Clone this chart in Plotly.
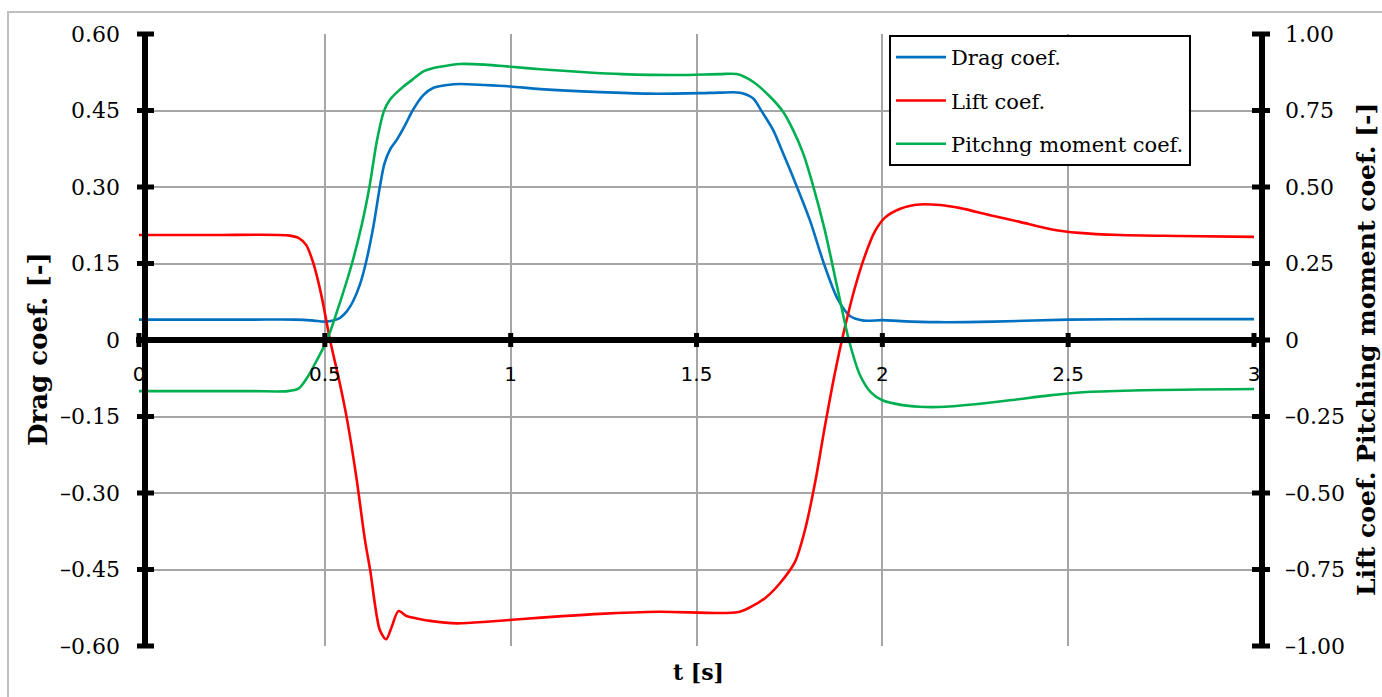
import plotly.graph_objects as go

# ---------------- data ----------------
drag_t = [0, 0.3, 0.42, 0.47, 0.5, 0.54, 0.56, 0.576, 0.595, 0.61, 0.63, 0.648, 0.66, 0.675, 0.693,
          0.715, 0.737, 0.765, 0.791, 0.83, 0.864, 0.93, 1.0, 1.08, 1.24, 1.375, 1.51, 1.563, 1.617,
          1.652, 1.675, 1.706, 1.729, 1.765, 1.805, 1.845, 1.88, 1.913, 1.95, 2.0, 2.05, 2.15,
          2.3, 2.5, 2.75, 3.0]
drag_v = [0.04, 0.04, 0.04, 0.038, 0.036, 0.043, 0.057, 0.076, 0.11, 0.15, 0.22, 0.30, 0.345, 0.373, 0.392,
          0.42, 0.451, 0.48, 0.494, 0.5, 0.502, 0.5, 0.497, 0.492, 0.486, 0.483, 0.484, 0.485, 0.485,
          0.474, 0.449, 0.412, 0.373, 0.31, 0.235, 0.145, 0.08, 0.047, 0.038, 0.039, 0.037, 0.035,
          0.036, 0.04, 0.041, 0.041]

lift_t = [0, 0.2, 0.4, 0.43, 0.45, 0.468, 0.49, 0.514, 0.54, 0.56, 0.585, 0.608, 0.622, 0.648, 0.665, 0.68,
          0.698, 0.72, 0.747, 0.783, 0.855, 0.944, 1.05, 1.24, 1.4, 1.61, 1.645, 1.685, 1.725, 1.765,
          1.792, 1.82, 1.845, 1.872, 1.897, 1.926, 1.953, 1.98, 2.007, 2.05, 2.1, 2.155, 2.21, 2.29,
          2.37, 2.45, 2.53, 2.64, 2.8, 3.0]
lift_v = [0.343, 0.343, 0.342, 0.333, 0.31, 0.255, 0.15, 0.0, -0.14, -0.261, -0.45, -0.654, -0.752, -0.948, -0.978, -0.937,
          -0.886, -0.902, -0.91, -0.918, -0.926, -0.92, -0.91, -0.895, -0.888, -0.89, -0.873, -0.843, -0.794, -0.725,
          -0.62, -0.46, -0.285, -0.11, 0.03, 0.17, 0.275, 0.355, 0.40, 0.43, 0.443, 0.441, 0.431, 0.408,
          0.386, 0.363, 0.35, 0.343, 0.34, 0.337]

pitch_t = [0, 0.3, 0.4, 0.43, 0.452, 0.479, 0.506, 0.54, 0.573, 0.6, 0.62, 0.64, 0.659, 0.675, 0.69,
           0.711, 0.735, 0.764, 0.79, 0.81, 0.864, 0.93, 1.0, 1.08, 1.2, 1.3, 1.45, 1.563, 1.608,
           1.652, 1.698, 1.733, 1.76, 1.787, 1.81, 1.845, 1.88, 1.91, 1.94, 1.97, 2.0, 2.05, 2.1,
           2.15, 2.25, 2.35, 2.45, 2.55, 2.7, 3.0]
pitch_v = [-0.167, -0.167, -0.167, -0.158, -0.124, -0.065, 0.0, 0.12, 0.25, 0.38, 0.5, 0.65, 0.748, 0.785, 0.805,
           0.828, 0.85, 0.877, 0.888, 0.893, 0.902, 0.9, 0.893, 0.885, 0.875, 0.869, 0.866, 0.869, 0.869,
           0.844, 0.795, 0.746, 0.686, 0.61, 0.52, 0.36, 0.165, 0.0, -0.115, -0.172, -0.197, -0.212, -0.218,
           -0.219, -0.21, -0.196, -0.181, -0.17, -0.164, -0.16]

series_names = ["Drag coef.", "Lift coef.", "Pitchng moment coef."]
series_colors = ["#0070C0", "#FF0000", "#00B050"]

x_ticks = [0, 0.5, 1, 1.5, 2, 2.5, 3]
x_ticktext = ["0", "0.5", "1", "1.5", "2", "2.5", "3"]
yl_ticks = [0.6, 0.45, 0.3, 0.15, 0, -0.15, -0.3, -0.45, -0.6]
yl_ticktext = ["0.60", "0.45", "0.30", "0.15", "0", "–0.15", "–0.30", "–0.45", "–0.60"]
yr_ticks = [1.0, 0.75, 0.5, 0.25, 0, -0.25, -0.5, -0.75, -1.0]
yr_ticktext = ["1.00", "0.75", "0.50", "0.25", "0", "–0.25", "–0.50", "–0.75", "–1.00"]

x_title = "t [s]"
yl_title = "Drag coef. [-]"
yr_title = "Lift coef. Pitching moment coef. [-]"

X_RANGE = [0, 3]
YL_RANGE = [-0.6, 0.6]
YR_RANGE = [-1, 1]

# ---------------- figure ----------------
W, H = 1382, 697
ML, MR, MT, MB = 139, 128, 34, 51
PW, PH = W - ML - MR, H - MT - MB


def px_x(p):
    return (p - ML) / PW


def px_y(p):
    return 1 - (p - MT) / PH


def frac(v, rng):
    return (v - rng[0]) / (rng[1] - rng[0])


SERIF = "DejaVu Serif"
GRID = "#A6A6A6"

fig = go.Figure()
data = [(drag_t, drag_v, "y"), (lift_t, lift_v, "y2"), (pitch_t, pitch_v, "y2")]
for i, (t, v, ax) in enumerate(data):
    fig.add_trace(go.Scatter(
        x=t, y=v, yaxis=ax, mode="lines", name=series_names[i],
        legendgroup=f"g{i}",
        line=dict(color=series_colors[i], width=2.6, shape="spline", smoothing=0.8),
    ))

shapes = []
# outer frame
shapes.append(dict(type="rect", xref="paper", yref="paper",
                   x0=px_x(8), x1=px_x(1400), y0=px_y(12), y1=px_y(720),
                   line=dict(color="#BFBFBF", width=2), fillcolor="rgba(0,0,0,0)", layer="above"))
# thick axis lines
axis_line = dict(color="black", width=6)
shapes.append(dict(type="line", xref="paper", yref="paper", xsizemode="pixel", xanchor=0, x0=6, x1=6,
                   y0=0, y1=1, line=axis_line, layer="above"))
shapes.append(dict(type="line", xref="paper", yref="paper", xsizemode="pixel", xanchor=1, x0=8, x1=8,
                   y0=0, y1=1, line=axis_line, layer="above"))
y_zero = frac(0, YL_RANGE)
shapes.append(dict(type="line", xref="paper", yref="paper", x0=px_x(136), x1=px_x(1264),
                   y0=y_zero, y1=y_zero, line=axis_line, layer="above"))
# tick bars
tick_line = dict(color="black", width=5)
for yv in yl_ticks:
    f = frac(yv, YL_RANGE)
    shapes.append(dict(type="line", xref="paper", yref="paper", xsizemode="pixel", xanchor=0, x0=-2, x1=15,
                       y0=f, y1=f, line=tick_line, layer="above"))
for yv in yr_ticks:
    f = frac(yv, YR_RANGE)
    shapes.append(dict(type="line", xref="paper", yref="paper", xsizemode="pixel", xanchor=1, x0=-2, x1=16,
                       y0=f, y1=f, line=tick_line, layer="above"))
for xv in x_ticks:
    f = frac(xv, X_RANGE)
    shapes.append(dict(type="line", xref="paper", yref="paper", ysizemode="pixel", yanchor=y_zero,
                       y0=-7, y1=7, x0=f, x1=f, line=tick_line, layer="above"))

annotations = [
    dict(text=f"<b>{yl_title}</b>", xref="paper", yref="paper", x=px_x(38), y=px_y(349),
         xanchor="center", yanchor="middle",
         textangle=-90, showarrow=False, font=dict(family=SERIF, size=26, color="black")),
    dict(text=f"<b>{yr_title}</b>", xref="paper", yref="paper", x=px_x(1366), y=px_y(350),
         xanchor="center", yanchor="middle",
         textangle=-90, showarrow=False, font=dict(family=SERIF, size=25, color="black")),
    dict(text=f"<b>{x_title}</b>", xref="paper", yref="paper", x=px_x(698), y=px_y(672),
         xanchor="center", yanchor="middle",
         showarrow=False, font=dict(family=SERIF, size=22, color="black")),
]

fig.update_layout(
    width=W, height=H,
    margin=dict(l=ML, r=MR, t=MT, b=MB, autoexpand=False),
    paper_bgcolor="white", plot_bgcolor="white",
    showlegend=True,
    legend=dict(x=px_x(889), y=px_y(35), xanchor="left", yanchor="top",
                bgcolor="white", bordercolor="black", borderwidth=2,
                font=dict(family=SERIF, size=21, color="black"),
                tracegroupgap=13, itemwidth=50),
    xaxis=dict(range=X_RANGE, tickvals=x_ticks, ticktext=x_ticktext,
               showgrid=True, gridcolor=GRID, gridwidth=1.5, zeroline=False,
               showline=False, ticks="", anchor="free", position=0.5,
               ticklabelstandoff=20,
               tickfont=dict(family="DejaVu Sans", size=20, color="black")),
    yaxis=dict(range=YL_RANGE, tickvals=yl_ticks, ticktext=yl_ticktext,
               showgrid=True, gridcolor=GRID, gridwidth=1.5, zeroline=False,
               showline=False, ticks="", ticklabelstandoff=18,
               tickfont=dict(family=SERIF, size=22, color="black")),
    yaxis2=dict(range=YR_RANGE, tickvals=yr_ticks, ticktext=yr_ticktext,
                overlaying="y", side="right", showgrid=False, zeroline=False,
                showline=False, ticks="", ticklabelstandoff=30,
                tickfont=dict(family=SERIF, size=22, color="black")),
    shapes=shapes,
    annotations=annotations,
)

fig.write_html("out.html")
